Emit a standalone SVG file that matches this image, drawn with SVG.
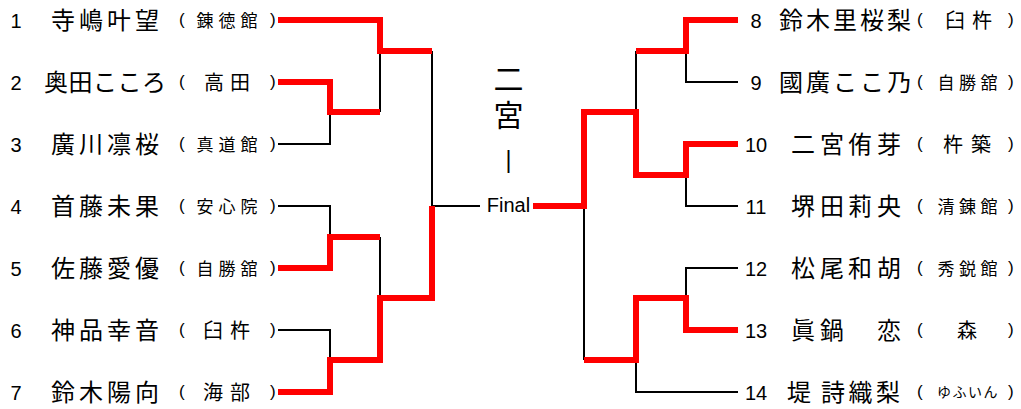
<svg xmlns="http://www.w3.org/2000/svg" width="1021" height="409" viewBox="0 0 1021 409">
<style>
.num{font-family:"Liberation Sans",Arial,sans-serif;font-size:20px;text-anchor:middle;fill:#000}
.nm{font-family:"Noto Sans CJK JP","Noto Sans CJK SC",sans-serif;font-size:24px;fill:#000}
.og{font-family:"Noto Sans CJK JP","Noto Sans CJK SC",sans-serif;fill:#000}
.o3{font-size:17px}
.o2{font-size:20px}
.o4{font-size:14px}
.par{font-family:"Liberation Sans",Arial,sans-serif;font-size:17px}
.red{stroke:#ff0000;stroke-width:6;fill:none;stroke-linejoin:miter;stroke-linecap:butt}
.blk{stroke:#000;stroke-width:2;fill:none;stroke-linejoin:miter}
.ttl{font-family:"Noto Sans CJK JP","Noto Sans CJK SC",sans-serif;font-size:30px;text-anchor:middle;fill:#000}
.fin{font-family:"Liberation Sans",Arial,sans-serif;font-size:20px;text-anchor:middle;fill:#000}
</style>
<rect width="1021" height="409" fill="#fff"/>

<g id="connectors">
  <!-- left black -->
  <path class="blk" d="M278,144 H330 V112"/>
  <path class="blk" d="M380,112 V51"/>
  <path class="blk" d="M278,206 H330 V237"/>
  <path class="blk" d="M278,330 H330 V360"/>
  <path class="blk" d="M380,237 V298"/>
  <path class="blk" d="M432,51 V206 H480"/>
  <!-- right black -->
  <path class="blk" d="M584,206 V360"/>
  <path class="blk" d="M636,360 V392 H738"/>
  <path class="blk" d="M686,298 V268 H738"/>
  <path class="blk" d="M636,51 V112"/>
  <path class="blk" d="M686,51 V82 H738"/>
  <path class="blk" d="M686,175 V206 H738"/>
  <!-- left red -->
  <path class="red" d="M278,20 H380 V51 H432"/>
  <path class="red" d="M278,82 H330 V112 H380"/>
  <path class="red" d="M278,268 H330 V237 H380"/>
  <path class="red" d="M278,392 H330 V360 H380 V298 H432 V206"/>
  <!-- right red -->
  <path class="red" d="M533,206 H584 V112 H636 V175 H686 V144 H738"/>
  <path class="red" d="M584,360 H636 V298 H686 V330 H738"/>
  <path class="red" d="M636,51 H686 V20 H738"/>
</g>

<g id="final">
  <text class="ttl" x="508.5 508.5" y="89.5 125.5">二宮</text>
  <text class="fin" x="508.5" y="168" style="font-size:23px">|</text>
  <text class="fin" x="508.5" y="212">Final</text>
</g>

<g id="p1">
  <text class="num" x="16" y="28">1</text>
  <text class="nm" x="51 79 107 135" y="29">寺嶋叶望</text>
  <text class="og"><tspan class="par" x="179" y="25">(</tspan><tspan class="o3" x="196.5 218.5 240.5" y="26.5">錬徳館</tspan><tspan class="par" x="270" y="25">)</tspan></text>
</g>
<g id="p2">
  <text class="num" x="16" y="90">2</text>
  <text class="nm" x="44 68.5 93 117.5 142" y="91">奥田こころ</text>
  <text class="og"><tspan class="par" x="179" y="87">(</tspan><tspan class="o2" x="204 230" y="89.6">高田</tspan><tspan class="par" x="270" y="87">)</tspan></text>
</g>
<g id="p3">
  <text class="num" x="16" y="152">3</text>
  <text class="nm" x="51 79 107 135" y="153">廣川凛桜</text>
  <text class="og"><tspan class="par" x="179" y="149">(</tspan><tspan class="o3" x="196.5 218.5 240.5" y="150.5">真道館</tspan><tspan class="par" x="270" y="149">)</tspan></text>
</g>
<g id="p4">
  <text class="num" x="16" y="214">4</text>
  <text class="nm" x="51 79 107 135" y="215">首藤未果</text>
  <text class="og"><tspan class="par" x="179" y="211">(</tspan><tspan class="o3" x="196.5 218.5 240.5" y="212.5">安心院</tspan><tspan class="par" x="270" y="211">)</tspan></text>
</g>
<g id="p5">
  <text class="num" x="16" y="276">5</text>
  <text class="nm" x="51 79 107 135" y="277">佐藤愛優</text>
  <text class="og"><tspan class="par" x="179" y="273">(</tspan><tspan class="o3" x="196.5 218.5 240.5" y="274.5">自勝舘</tspan><tspan class="par" x="270" y="273">)</tspan></text>
</g>
<g id="p6">
  <text class="num" x="16" y="338">6</text>
  <text class="nm" x="51 79 107 135" y="339">神品幸音</text>
  <text class="og"><tspan class="par" x="179" y="335">(</tspan><tspan class="o2" x="203 230" y="337.6">臼杵</tspan><tspan class="par" x="270" y="335">)</tspan></text>
</g>
<g id="p7">
  <text class="num" x="16" y="400">7</text>
  <text class="nm" x="51 79 107 135" y="401">鈴木陽向</text>
  <text class="og"><tspan class="par" x="179" y="397">(</tspan><tspan class="o2" x="203 230" y="399.6">海部</tspan><tspan class="par" x="270" y="397">)</tspan></text>
</g>

<g id="p8">
  <text class="num" x="756" y="28">8</text>
  <text class="nm" x="779 806 833 860 887" y="29">鈴木里桜梨</text>
  <text class="og"><tspan class="par" x="917" y="25">(</tspan><tspan class="o2" x="945 972" y="27.6">臼杵</tspan><tspan class="par" x="1008" y="25">)</tspan></text>
</g>
<g id="p9">
  <text class="num" x="756" y="90">9</text>
  <text class="nm" x="779 806 833 860 887" y="91">國廣ここ乃</text>
  <text class="og"><tspan class="par" x="917" y="87">(</tspan><tspan class="o3" x="937.5 959 980.5" y="88.5">自勝舘</tspan><tspan class="par" x="1008" y="87">)</tspan></text>
</g>
<g id="p10">
  <text class="num" x="756" y="152">10</text>
  <text class="nm" x="791 820 848 877" y="153">二宮侑芽</text>
  <text class="og"><tspan class="par" x="917" y="149">(</tspan><tspan class="o2" x="943 971" y="151.6">杵築</tspan><tspan class="par" x="1008" y="149">)</tspan></text>
</g>
<g id="p11">
  <text class="num" x="756" y="214">11</text>
  <text class="nm" x="791 820 848 877" y="215">堺田莉央</text>
  <text class="og"><tspan class="par" x="917" y="211">(</tspan><tspan class="o3" x="937.5 959 980.5" y="212.5">清錬館</tspan><tspan class="par" x="1008" y="211">)</tspan></text>
</g>
<g id="p12">
  <text class="num" x="756" y="276">12</text>
  <text class="nm" x="791 820 848 877" y="277">松尾和胡</text>
  <text class="og"><tspan class="par" x="917" y="273">(</tspan><tspan class="o3" x="937.5 959 980.5" y="274.5">秀鋭館</tspan><tspan class="par" x="1008" y="273">)</tspan></text>
</g>
<g id="p13">
  <text class="num" x="756" y="338">13</text>
  <text class="nm" x="791 820 848 877" y="339">眞鍋　恋</text>
  <text class="og"><tspan class="par" x="917" y="335">(</tspan><tspan class="o2" x="957" y="337.6">森</tspan><tspan class="par" x="1008" y="335">)</tspan></text>
</g>
<g id="p14">
  <text class="num" x="756" y="400">14</text>
  <text class="nm" y="401" style="white-space:pre"><tspan x="787">堤 </tspan><tspan x="821 848.5 876">詩織梨</tspan></text>
  <text class="og"><tspan class="par" x="917" y="397">(</tspan><tspan class="o4" x="937 952.5 968 983.5" y="397">ゆふいん</tspan><tspan class="par" x="1008" y="397">)</tspan></text>
</g>
</svg>
